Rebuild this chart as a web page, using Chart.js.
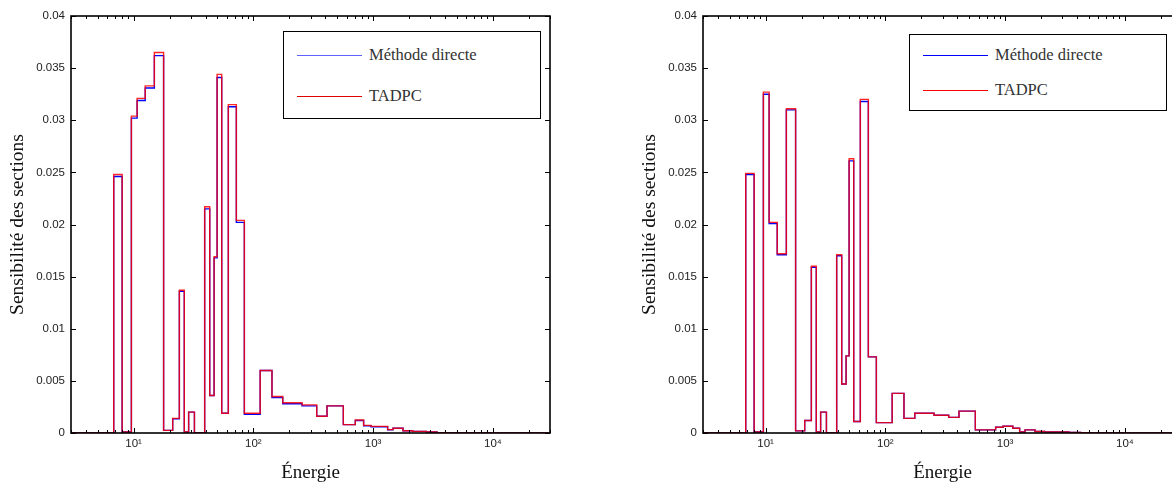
<!DOCTYPE html>
<html lang="fr">
<head>
  <meta charset="UTF-8" />
  <title>Sensibilité des sections</title>
  <script src="https://cdn.jsdelivr.net/npm/chart.js"></script>
  <style>
    html, body { margin: 0; padding: 0; background: #fff; overflow: hidden; }
    #wrap { position: relative; width: 1172px; height: 484px; overflow: hidden; }
    canvas { position: absolute; top: 0; }
    #c1 { left: 0; }
    #c2 { left: 632px; }
    .legend { position: absolute; border: 1.5px solid #000; background: #fff; box-sizing: border-box;
              font-family: "Liberation Serif", serif; font-size: 16.5px; color: #333; }
    .legend .row { position: absolute; left: 0; right: 0; height: 0; }
    .legend .ln { position: absolute; left: 13px; width: 65px; top: -1px; height: 0; border-top: 1.5px solid; }
    .legend .tx { position: absolute; left: 85px; top: -11px; line-height: 20px; white-space: nowrap; }
  </style>
</head>
<body>
  <div id="wrap">
    <canvas id="c1" width="586" height="484"></canvas>
    <canvas id="c2" width="600" height="484"></canvas>

    <!-- legends (MATLAB style boxes) -->
    <div class="legend" style="left:283px; top:31px; width:258px; height:88px;">
      <div class="row" style="top:24px;"><div class="ln" style="border-color:#6060ff"></div><div class="tx">Méthode directe</div></div>
      <div class="row" style="top:65px;"><div class="ln" style="border-color:#e00000"></div><div class="tx">TADPC</div></div>
    </div>
    <div class="legend" style="left:909px; top:34px; width:258px; height:77px;">
      <div class="row" style="top:21px;"><div class="ln" style="border-color:#0000ff"></div><div class="tx">Méthode directe</div></div>
      <div class="row" style="top:56px;"><div class="ln" style="border-color:#ff0000"></div><div class="tx">TADPC</div></div>
    </div>
  </div>

  <script>
    // energy group boundaries (shared by both plots)
    const edges = [3, 6.82, 8.02, 9.58, 10.7, 12.5, 14.9, 17.8, 21.2, 24.1, 26.5, 28.8, 32.2,
                   39.2, 43.2, 47.0, 49.8, 54.4, 61.8, 72.1, 84.1, 114, 143, 176, 255, 338, 412,
                   564, 710, 833, 960, 1160, 1322, 1466, 1777, 2137, 2781, 3415, 4268, 5240, 30000];

    // left plot: one value per group
    const direct1 = [0, 0.0246, 0.0001, 0.0302, 0.0319, 0.0331, 0.0362, 0.00025, 0.00137, 0.0136,
                     0.0001, 0.002, 0, 0.0215, 0.0036, 0.0168, 0.0341, 0.0019, 0.0313, 0.0202,
                     0.0018, 0.006, 0.0034, 0.0028, 0.0026, 0.0016, 0.0026, 0.0008, 0.0012, 0.0007,
                     0.0006, 0.0006, 0.0003, 0.00045, 0.00022, 0.00016, 0.0001, 0.00004, 0, 0];
    const tadpc1  = [0, 0.0248, 0.0001, 0.0304, 0.0321, 0.0333, 0.0365, 0.00025, 0.0014, 0.0137,
                     0.0001, 0.002, 0, 0.0217, 0.0036, 0.0169, 0.0344, 0.0019, 0.0315, 0.0204,
                     0.0019, 0.006, 0.0035, 0.0029, 0.0027, 0.0016, 0.0026, 0.0008, 0.00125, 0.00073,
                     0.00064, 0.00064, 0.00032, 0.00045, 0.00022, 0.00016, 0.0001, 0.00003, 0, 0];

    // right plot
    const direct2 = [0, 0.0248, 0.0001, 0.0325, 0.0201, 0.0171, 0.031, 0.0002, 0.0012, 0.0159,
                     0.0001, 0.002, 0, 0.017, 0.0047, 0.0074, 0.0261, 0.0011, 0.0318, 0.0073,
                     0.001, 0.0038, 0.0014, 0.0019, 0.0017, 0.0015, 0.0021, 0.0003, 0.0003, 0.00055,
                     0.00065, 0.00045, 0.0001, 0.0003, 0.00015, 0.0001, 0.0001, 0.00005, 0.00003, 0];
    const tadpc2  = [0, 0.0249, 0.0001, 0.0327, 0.0202, 0.0172, 0.0311, 0.0002, 0.0012, 0.016,
                     0.0001, 0.002, 0, 0.0171, 0.0047, 0.0074, 0.0263, 0.0011, 0.032, 0.0073,
                     0.001, 0.0038, 0.0014, 0.0019, 0.0017, 0.0015, 0.0021, 0.0003, 0.0003, 0.00055,
                     0.00065, 0.00045, 0.0001, 0.0003, 0.00015, 0.0001, 0.0001, 0.00005, 0.00003, 0];

    const xTicks      = [10, 100, 1000, 10000];
    const xTickLabels = ['10¹', '10²', '10³', '10⁴'];
    const xMin = 3, xMax = 30000;
    const yMin = 0, yMax = 0.04, yStep = 0.005;

    // stairs: value i holds from edges[i] to edges[i+1]
    const stairs = vals => edges.map((e, i) => ({ x: e, y: vals[Math.min(i, vals.length - 1)] }));

    // MATLAB-like box with inward ticks on all four sides
    const matlabBox = {
      id: 'matlabBox',
      afterDraw(chart) {
        const { ctx, chartArea: a, scales: { x, y } } = chart;
        ctx.save();
        ctx.strokeStyle = '#000';
        ctx.lineWidth = 1;
        ctx.beginPath();
        y.ticks.forEach(t => {
          const py = Math.round(y.getPixelForValue(t.value)) + 0.5;
          ctx.moveTo(a.left, py);  ctx.lineTo(a.left + 5, py);
          ctx.moveTo(a.right, py); ctx.lineTo(a.right - 5, py);
        });
        for (let d = 1; d <= 10000; d *= 10) {
          for (let m = 1; m < 10; m++) {
            const v = d * m;
            if (v < xMin || v > xMax) continue;
            const px = Math.round(x.getPixelForValue(v)) + 0.5;
            const len = m === 1 ? 5 : 3;
            ctx.moveTo(px, a.bottom); ctx.lineTo(px, a.bottom - len);
            ctx.moveTo(px, a.top);    ctx.lineTo(px, a.top + len);
          }
        }
        ctx.stroke();
        ctx.lineWidth = 1.6;
        ctx.strokeRect(a.left, a.top, a.right - a.left, a.bottom - a.top);
        ctx.restore();
      }
    };

    function makeChart(id, direct, tadpc, padRight) {
      return new Chart(document.getElementById(id), {
        type: 'line',
        data: {
          datasets: [
            { label: 'Méthode directe', data: stairs(direct), stepped: 'before', order: 2,
              borderColor: '#0000ff', borderWidth: 1.4, pointRadius: 0, fill: false },
            { label: 'TADPC', data: stairs(tadpc), stepped: 'before', order: 1,
              borderColor: 'rgba(255,0,0,0.85)', borderWidth: 1.4, pointRadius: 0, fill: false }
          ]
        },
        options: {
          responsive: false,
          animation: false,
          events: [],
          layout: { padding: { top: 16, right: padRight, left: 0, bottom: 0 } },
          plugins: { legend: { display: false }, tooltip: { enabled: false } },
          scales: {
            x: {
              type: 'logarithmic', min: xMin, max: xMax,
              afterBuildTicks: s => { s.ticks = xTicks.map(v => ({ value: v })); },
              afterFit: s => { s.height = 51; },
              grid: { display: false, drawTicks: false },
              border: { display: false },
              ticks: { autoSkip: false, maxRotation: 0, padding: 4, color: '#222',
                       font: { family: 'Liberation Sans', size: 11.5 },
                       callback: (v, i) => xTickLabels[i] },
              title: { display: true, text: 'Énergie', color: '#111',
                       font: { family: 'Liberation Serif', size: 19 }, padding: { top: 0, bottom: 0 } }
            },
            y: {
              min: yMin, max: yMax,
              afterFit: s => { s.width = 71; },
              grid: { display: false, drawTicks: false },
              border: { display: false },
              ticks: { stepSize: yStep, padding: 6, color: '#222',
                       font: { family: 'Liberation Sans', size: 11.5 },
                       callback: v => String(parseFloat(v.toFixed(3))) },
              title: { display: true, text: 'Sensibilité des sections', color: '#111',
                       font: { family: 'Liberation Serif', size: 19.5 }, padding: { top: 6, bottom: 0 } }
            }
          }
        },
        plugins: [matlabBox]
      });
    }

    makeChart('c1', direct1, tadpc1, 36);
    makeChart('c2', direct2, tadpc2, 50);
  </script>
</body>
</html>
